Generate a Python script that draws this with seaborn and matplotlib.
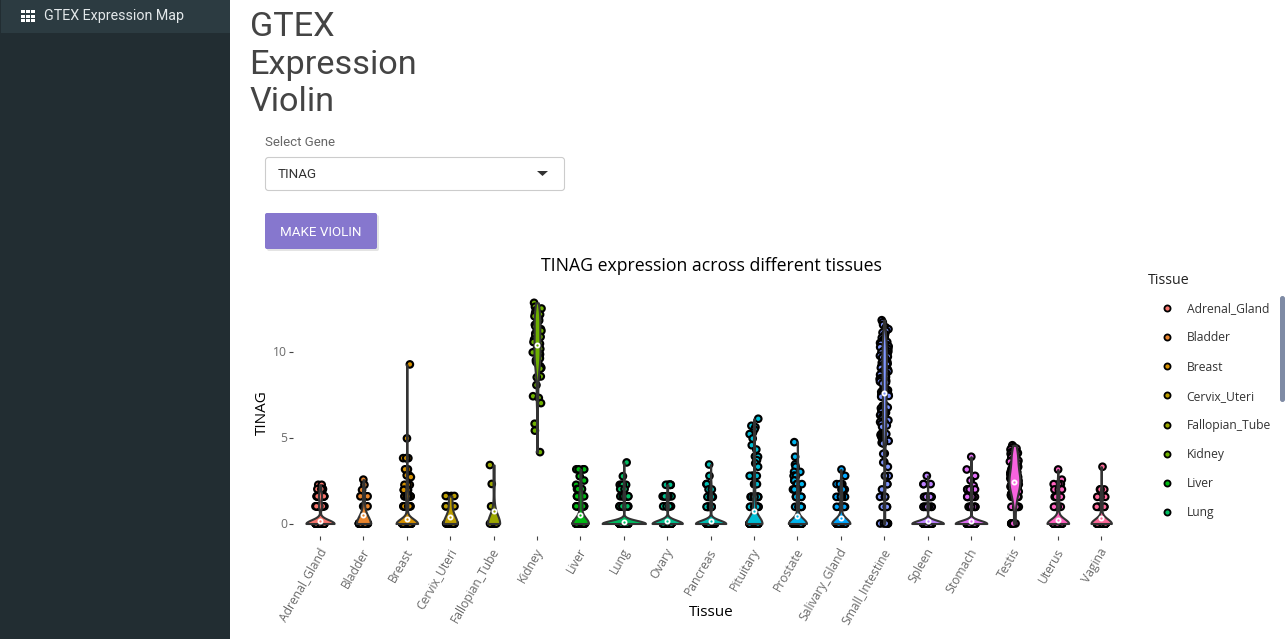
import matplotlib
matplotlib.use("Agg")
import matplotlib.pyplot as plt
from matplotlib.lines import Line2D
from matplotlib.patches import FancyBboxPatch, Polygon, Rectangle
from matplotlib.transforms import ScaledTranslation
import numpy as np
import pandas as pd
import seaborn as sns

TISSUES = ["Adrenal_Gland", "Bladder", "Breast", "Cervix_Uteri", "Fallopian_Tube", "Kidney",
           "Liver", "Lung", "Ovary", "Pancreas", "Pituitary", "Prostate", "Salivary_Gland",
           "Small_Intestine", "Spleen", "Stomach", "Testis", "Uterus", "Vagina"]
COLORS = ["#F8766D", "#E9842C", "#D69100", "#BC9D00", "#9CA700", "#6FB000", "#00B813", "#00BD61",
          "#00C08E", "#00C0B4", "#00BDD4", "#00B5EE", "#00A7FF", "#7F96FF", "#BC81FF", "#E26EF7",
          "#F863DF", "#FF62BF", "#FF6A9A"]
MEDIANS = [0.15, 0.5, 0.25, 0.4, 0.7, 10.4, 0.5, 0.1, 0.15, 0.15, 0.7, 0.45, 0.3, 7.6, 0.15, 0.15,
           2.4, 0.2, 0.3]

adrenal = [2.25, 2.25] + [2.0] * 5 + [1.58] * 14 + [1.0] * 14 + [0.0] * 140
bladder = [2.55, 2.25, 1.95, 1.58, 1.58, 1.58, 1.0, 1.0, 1.0] + [0.0] * 40
breast = [9.25, 4.95, 3.8, 3.8, 3.8, 3.8, 3.15, 3.15, 2.8, 2.8, 2.7, 2.25, 2.25, 2.25, 2.25] + [1.95] * 5 + \
         [1.58] * 10 + [1.0] * 10 + [0.0] * 120
cervix = [1.6, 1.6, 1.6, 1.6, 1.0, 1.0, 1.0] + [0.0] * 22
fallopian = [3.4, 2.3, 1.0] + [0.0] * 12
kidney = [12.83, 12.6, 12.5, 12.4, 12.3, 12.2, 12.15, 12.05, 11.9, 11.8, 11.7, 11.6, 11.55, 11.45, 11.3, 11.2,
          11.05, 10.95, 10.85, 10.7, 10.6, 10.55, 10.45, 10.3, 10.25, 10.15, 10.05, 9.95, 9.85, 9.8, 9.7, 9.6,
          9.5, 9.4, 9.3, 9.15, 9.05, 9.0, 8.55, 8.5, 8.05, 7.4, 7.3, 7.0, 5.8, 5.4, 4.15]
liver = [3.15, 3.15, 3.15, 3.15, 2.75, 2.5, 2.25, 2.0, 2.0, 2.0, 2.0] + [1.58] * 8 + [1.0] * 10 + [0.0] * 70
lung = [3.55, 2.75, 2.25, 2.25, 2.25, 2.25, 2.0, 2.0] + [1.58] * 10 + [1.0] * 12 + [0.0] * 220
ovary = [2.25] * 6 + [1.58] * 9 + [1.0] * 9 + [0.0] * 130
pancreas = [3.43, 2.77, 2.29, 2.29, 2.29, 1.98, 1.98] + [1.55] * 8 + [0.97] * 9 + [0.0] * 130
pituitary = [6.09, 5.68, 5.6, 5.47, 5.27, 5.2, 4.94, 4.55, 4.3, 3.9, 3.88, 3.68, 3.5, 3.3, 2.77, 2.77, 2.77, 2.77,
             2.29, 2.29, 2.29, 2.29, 2.29] + [1.55] * 10 + [0.97] * 12 + [0.0] * 110
prostate = [4.73, 3.88, 3.43, 3.3, 3.0, 3.0, 2.77, 2.77, 2.77, 2.5, 2.5, 2.29, 2.29, 2.29, 1.98, 1.98, 1.98, 1.98] + \
           [1.55] * 10 + [0.97] * 10 + [0.0] * 110
salivary = [3.14, 2.77, 2.29, 2.29, 2.29, 2.29, 1.98, 1.98, 1.98] + [1.55] * 7 + [0.97] * 8 + [0.0] * 90
small_intestine = [11.82, 11.7, 11.55, 11.4, 11.3, 11.2, 11.1, 11.0, 10.9, 10.85, 10.8, 10.7, 10.65, 10.6, 10.55,
                   10.5, 10.45, 10.4, 10.35, 10.3, 10.25, 10.2, 10.15, 10.1, 10.05, 10.0, 9.95, 9.9, 9.85, 9.8,
                   9.75, 9.7, 9.65, 9.6, 9.55, 9.5, 9.45, 9.4, 9.35, 9.3, 9.25, 9.2, 9.15, 9.1, 9.05, 9.0, 8.95,
                   8.9, 8.85, 8.8, 8.75, 8.7, 8.65, 8.6, 8.55, 8.5, 8.45, 8.4, 8.35, 8.3, 8.25, 8.2, 8.14,
                   7.78, 7.75, 7.72, 7.7, 7.68, 7.65, 7.62, 7.6, 7.58, 7.55, 7.52, 7.5, 7.45, 7.42, 7.4, 7.37,
                   6.88, 6.85, 6.8, 6.75, 6.7, 6.65, 6.6, 6.55, 6.5, 6.45, 6.4, 6.35, 6.3, 6.25, 6.2, 6.15, 6.1,
                   6.05, 6.0, 5.9, 5.85, 5.8, 5.7, 5.62, 5.23, 5.2, 5.15, 5.1, 5.05, 5.0, 4.95, 4.9, 4.85, 4.8,
                   4.75, 4.7, 4.65, 4.07, 4.05, 3.58, 3.55, 3.3, 2.77, 2.77, 2.29, 2.29, 1.98, 1.55, 1.55, 1.55,
                   0.97, 0.97, 0.97, 0.0, 0.0, 0.0, 0.0, 0.0, 0.0]
spleen = [2.77, 2.29, 2.29, 2.29] + [1.55] * 8 + [0.97] * 8 + [0.0] * 150
stomach = [3.88, 3.14, 2.77, 2.5, 2.2, 1.98, 1.98, 1.98, 1.98] + [1.55] * 8 + [0.97] * 8 + [0.0] * 150
testis = [4.55, 4.45, 4.4, 4.36, 4.3, 4.25, 4.2, 4.15, 4.1, 4.07, 4.05, 4.0, 3.95, 3.9, 3.85, 3.8, 3.78, 3.75, 3.7,
          3.65, 3.6, 3.55, 3.5, 3.45, 3.4, 3.35, 3.3, 3.25, 3.2, 3.15, 3.1, 3.05, 3.0, 2.98, 2.95, 2.9, 2.88, 2.85,
          2.82, 2.8, 2.77, 2.75, 2.72, 2.7, 2.68, 2.65, 2.62, 2.6, 2.58, 2.55, 2.52, 2.5, 2.48, 2.45, 2.42, 2.4, 2.38,
          2.35, 2.32, 2.3, 2.29, 2.27, 2.25, 2.22, 2.2, 2.18, 2.15, 2.12, 2.1, 2.05, 2.0, 1.98, 1.95, 1.9, 1.85, 1.8,
          1.75, 1.7, 1.65, 1.55, 1.55, 1.55, 1.55, 1.55, 0.97, 0.97, 0.97, 0.97, 0.97, 0.0, 0.0, 0.0, 0.0, 0.0, 0.0]
uterus = [3.14, 2.55, 2.29, 2.29, 2.29, 1.98, 1.98, 1.98] + [1.55] * 6 + [0.97] * 7 + [0.0] * 80
vagina = [3.3, 1.98, 1.98, 1.98] + [1.55] * 6 + [0.97] * 6 + [0.0] * 75
SERIES = [adrenal, bladder, breast, cervix, fallopian, kidney, liver, lung, ovary, pancreas, pituitary,
          prostate, salivary, small_intestine, spleen, stomach, testis, uterus, vagina]

VIOLIN_WIDTHS = [0.65, 0.32, 0.5, 0.32, 0.28, 0.14, 0.37, 1.0, 0.7, 0.7, 0.37, 0.42, 0.42, 0.1, 0.73, 0.73,
                 0.25, 0.5, 0.47]
KDE_BANDWIDTHS = [0.22, 0.45, 0.27, 0.45, 0.5, 0.55, 0.35, 0.18, 0.2, 0.2, 0.4, 0.3, 0.3, 0.55, 0.18, 0.18,
                  0.45, 0.28, 0.28]

W, H = 1287, 639
sns.set_theme(style="white")
plt.rcParams["font.family"] = ["Open Sans", "DejaVu Sans"]
fig = plt.figure(figsize=(W / 100, H / 100), dpi=100, facecolor="white")

# page furniture, in pixel coordinates
bg = fig.add_axes([0, 0, 1, 1], zorder=0)
bg.set_xlim(0, W)
bg.set_ylim(H, 0)
bg.axis("off")
bg.add_patch(Rectangle((0, 0), 230, H, color="#222d32", lw=0))
bg.add_patch(Rectangle((1, 0), 229, 33, color="#2c3b41", lw=0))
for gx in (21, 26, 31):
    for gy in (10, 14.5, 19):
        bg.add_patch(Rectangle((gx, gy), 3.6, 3.4, color="white", lw=0))
rb = "Roboto"
bg.text(44.5, 16, "GTEX Expression Map", family=rb, fontsize=10.3, color="#e3e8ea", va="center")
for line, yy in zip(["GTEX", "Expression", "Violin"], [27, 65, 102]):
    bg.text(249.5, yy, line, family=rb, fontsize=24.7, color="#444444", va="center")
bg.text(265, 142, "Select Gene", family=rb, fontsize=9.55, color="#666666", va="center")
bg.add_patch(FancyBboxPatch((265.5, 157.5), 299, 33, boxstyle="round,pad=0,rounding_size=3",
                            fc="white", ec="#cccccc", lw=0.8))
bg.text(278, 175, "TINAG", family=rb, fontsize=9.6, color="#333333", va="center")
bg.add_patch(Polygon([[537, 171], [548, 171], [542.5, 176]], color="#333333", lw=0))
bg.add_patch(FancyBboxPatch((267, 215), 112, 36, boxstyle="round,pad=0,rounding_size=2",
                            fc="#e4e4e4", ec="none"))
bg.add_patch(FancyBboxPatch((265, 213), 112, 36, boxstyle="round,pad=0,rounding_size=2",
                            fc="#8677ce", ec="none"))
bg.text(321, 232, "MAKE VIOLIN", family=rb, fontsize=9.6, color="white", va="center", ha="center")
bg.add_patch(FancyBboxPatch((1280, 296), 5, 106, boxstyle="round,pad=0,rounding_size=2.5",
                            fc="#7f8ba5", ec="none"))

# chart
L, R, T, B = 293, 1129, 290, 536
ax = fig.add_axes([L / W, 1 - B / H, (R - L) / W, (B - T) / H], zorder=1)
ax.patch.set_alpha(0)
long_df = pd.DataFrame([(t, v) for t, vals in zip(TISSUES, SERIES) for v in vals], columns=["Tissue", "TINAG"])
med_df = pd.DataFrame({"Tissue": TISSUES, "TINAG": MEDIANS})
palette = dict(zip(TISSUES, COLORS))

sns.stripplot(data=long_df, x="Tissue", y="TINAG", hue="Tissue", order=TISSUES, hue_order=TISSUES,
              palette=palette, jitter=0.105, size=4.7, edgecolor="black", linewidth=1.55, legend=False, zorder=1, ax=ax)
for t, c, w, b, vals in zip(TISSUES, COLORS, VIOLIN_WIDTHS, KDE_BANDWIDTHS, SERIES):
    sns.violinplot(data=long_df[long_df.Tissue == t], x="Tissue", y="TINAG", order=TISSUES, color=c, width=w,
                   density_norm="width", cut=0, inner=None, linewidth=1.5, linecolor="#333333", saturation=1,
                   bw_method=b / np.std(vals, ddof=1), ax=ax)
sns.stripplot(data=med_df, x="Tissue", y="TINAG", hue="Tissue", order=TISSUES, hue_order=TISSUES,
              palette=palette, jitter=False, size=3.0, edgecolor="white", linewidth=1.3, legend=False, zorder=5, ax=ax)

ax.set_xlim(-0.622, (R - 320) / 43.4)
ax.set_ylim(-(B - 523.5) / 17.2, (523.5 - T) / 17.2)
ax.set_yticks([0, 5, 10])
sns.despine(ax=ax, left=True, bottom=True, top=True, right=True)
ax.tick_params(axis="both", length=3.2, width=0.8, color="#444444", labelcolor="#6a6a6a", labelsize=8.7,
               left=True, bottom=True, pad=1)
ax.tick_params(axis="x", pad=4)
shift = ScaledTranslation(-2.5 / 100, 0, fig.dpi_scale_trans)
for lab in ax.get_xticklabels():
    lab.set_rotation(60)
    lab.set_ha("right")
    lab.set_rotation_mode("anchor")
    lab.set_transform(lab.get_transform() + shift)
ax.set_title("TINAG expression across different tissues", fontsize=12.7, color="black", pad=14)
ax.set_xlabel("Tissue", fontsize=11, color="black")
ax.xaxis.set_label_coords(0.5, -(613 - B) / (B - T), transform=ax.transAxes)
ax.xaxis.label.set_va("center")
ax.set_ylabel("TINAG", fontsize=11, color="black")
ax.yaxis.set_label_coords((262 - L) / (R - L), 0.5, transform=ax.transAxes)
ax.yaxis.label.set_va("center")

handles = [Line2D([], [], ls="", marker="o", ms=4.4, mfc=c, mec="black", mew=1.3) for c in COLORS[:8]]
leg = ax.legend(handles, TISSUES[:8], title="Tissue", loc="upper left", frameon=False, alignment="left",
                bbox_to_anchor=(1148 / W, 1 - 273 / H), bbox_transform=fig.transFigure, borderpad=0, borderaxespad=0,
                handlelength=3.2, handletextpad=0.0, labelspacing=1.335, fontsize=8.7, title_fontsize=10.3)
leg._legend_box.sep = 10.3
leg.get_title().set_color("#222222")
for txt in leg.get_texts():
    txt.set_color("#333333")

fig.savefig("out.png", dpi=100)
